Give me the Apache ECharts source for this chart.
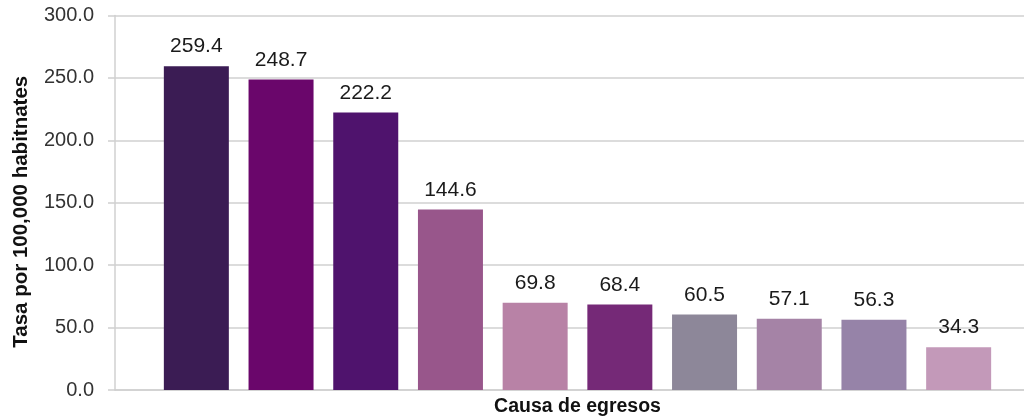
<!DOCTYPE html>
<html>
<head>
<meta charset="utf-8">
<script src="https://cdn.jsdelivr.net/npm/echarts@6/dist/echarts.min.js"></script>
<style>html,body{margin:0;padding:0;background:#fff}#c{width:1024px;height:420px}</style>
</head>
<body>
<div id="c"></div>
<script>
const categories = ['C1','C2','C3','C4','C5','C6','C7','C8','C9','C10'];
const values = [259.4, 248.7, 222.2, 144.6, 69.8, 68.4, 60.5, 57.1, 56.3, 34.3];
const barColors = ['#3b1c54','#6a066b','#4f136d','#98568b','#b882a6','#752977','#8d8799','#a583a6','#9683a8','#c399b9'];
const yTicks = { min: 0, max: 300, interval: 50 };
const yName = 'Tasa por 100,000 habitnates';
const xName = 'Causa de egresos';

const chart = echarts.init(document.getElementById('c'), null, {renderer: 'canvas'});
const gridTop = 15.5, gridBottom = 30;
chart.setOption({
  animation: false,
  grid: [
    {left: 115, right: -16, top: gridTop, bottom: gridBottom, outerBoundsMode: 'none', containLabel: false},
    {left: 154, right: 23, top: gridTop, bottom: gridBottom, outerBoundsMode: 'none', containLabel: false}
  ],
  xAxis: [
    {gridIndex: 0, type: 'category', data: [''], boundaryGap: false,
     axisLine: {show: true, lineStyle: {color: '#d0d0d0', width: 1.5}},
     axisTick: {show: false}, axisLabel: {show: false}, splitLine: {show: false},
     name: xName, nameLocation: 'middle', nameGap: 7,
     nameTextStyle: {fontFamily: 'Liberation Sans', fontWeight: 'bold', fontSize: 19.5, color: '#111', verticalAlign: 'top'}},
    {gridIndex: 1, type: 'category', data: categories, show: false}
  ],
  yAxis: [
    {gridIndex: 0, type: 'value', min: yTicks.min, max: yTicks.max, interval: yTicks.interval,
     axisLine: {show: true, lineStyle: {color: '#d0d0d0', width: 1.5}},
     axisTick: {show: true, length: 7, lineStyle: {color: '#d0d0d0', width: 1.5}},
     splitLine: {show: true, lineStyle: {color: '#d0d0d0', width: 1.5}},
     axisLabel: {margin: 21, fontFamily: 'Liberation Sans', fontSize: 20, color: '#333',
                 formatter: v => v.toFixed(1)},
     name: yName, nameLocation: 'middle', nameGap: 83, nameRotate: 90,
     nameTextStyle: {fontFamily: 'Liberation Sans', fontWeight: 'bold', fontSize: 20.5, color: '#111', padding: [0, 18, 0, 0]}},
    {gridIndex: 1, type: 'value', min: yTicks.min, max: yTicks.max, interval: yTicks.interval, show: false, splitLine: {show: false}}
  ],
  series: [{
    type: 'bar', xAxisIndex: 1, yAxisIndex: 1, barWidth: 65,
    data: values.map((v, i) => ({value: v, itemStyle: {color: barColors[i]}})),
    label: {show: true, position: 'top', distance: 9, fontFamily: 'Liberation Sans', fontSize: 21, color: '#1a1a1a',
            formatter: p => p.value.toFixed(1)}
  }]
});
</script>
</body>
</html>
